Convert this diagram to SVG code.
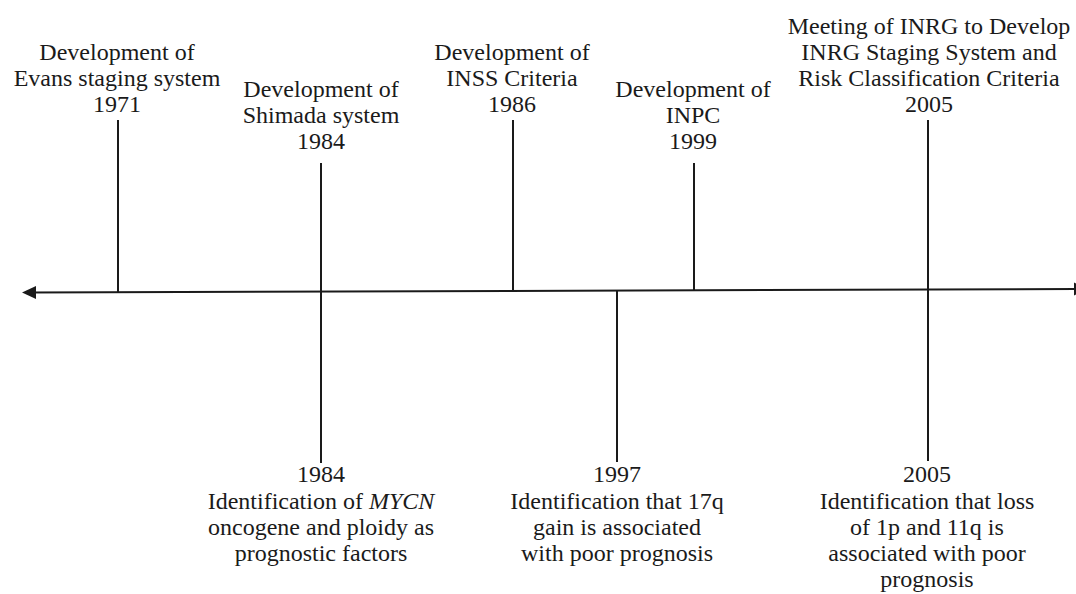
<svg xmlns="http://www.w3.org/2000/svg" width="1076" height="594" viewBox="0 0 1076 594">
<style>
  text { font-family: "Liberation Serif", "Times New Roman", serif; font-size: 24px; fill: #1a1a1a; text-anchor: middle; }
  .ln { stroke: #1a1a1a; stroke-width: 2; fill: none; }
  .ah { fill: #1a1a1a; }
</style>
<rect width="1076" height="594" fill="#ffffff"/>
<g id="connectors">
  <line class="ln" x1="30" y1="292.5" x2="1076" y2="289"/>
  <polygon class="ah" points="22,292.5 36,286 36,299"/>
  <polygon class="ah" points="1088,289 1074,282.5 1074,295.5"/>
  <line class="ln" x1="118" y1="120" x2="118" y2="292"/>
  <line class="ln" x1="321" y1="163" x2="321" y2="463"/>
  <line class="ln" x1="513" y1="120" x2="513" y2="291"/>
  <line class="ln" x1="617" y1="291" x2="617" y2="462"/>
  <line class="ln" x1="694" y1="163" x2="694" y2="290"/>
  <line class="ln" x1="928" y1="120" x2="928" y2="461"/>
</g>
<g id="evans-1971">
  <text x="117" y="60">Development of</text>
  <text x="117" y="86">Evans staging system</text>
  <text x="117" y="112">1971</text>
</g>
<g id="shimada-1984">
  <text x="321" y="97">Development of</text>
  <text x="321" y="123">Shimada system</text>
  <text x="321" y="149">1984</text>
</g>
<g id="inss-1986">
  <text x="512" y="60">Development of</text>
  <text x="512" y="86">INSS Criteria</text>
  <text x="512" y="112">1986</text>
</g>
<g id="inpc-1999">
  <text x="693" y="97">Development of</text>
  <text x="693" y="123">INPC</text>
  <text x="693" y="149">1999</text>
</g>
<g id="inrg-2005">
  <text x="929" y="34">Meeting of INRG to Develop</text>
  <text x="929" y="60">INRG Staging System and</text>
  <text x="929" y="86">Risk Classification Criteria</text>
  <text x="929" y="112">2005</text>
</g>
<g id="mycn-1984">
  <text x="321" y="482">1984</text>
  <text x="321" y="509">Identification of <tspan font-style="italic">MYCN</tspan></text>
  <text x="321" y="535">oncogene and ploidy as</text>
  <text x="321" y="561">prognostic factors</text>
</g>
<g id="17q-1997">
  <text x="617" y="482">1997</text>
  <text x="617" y="509">Identification that 17q</text>
  <text x="617" y="535">gain is associated</text>
  <text x="617" y="561">with poor prognosis</text>
</g>
<g id="1p11q-2005">
  <text x="927" y="482">2005</text>
  <text x="927" y="509">Identification that loss</text>
  <text x="927" y="535">of 1p and 11q is</text>
  <text x="927" y="561">associated with poor</text>
  <text x="927" y="587">prognosis</text>
</g>
</svg>
